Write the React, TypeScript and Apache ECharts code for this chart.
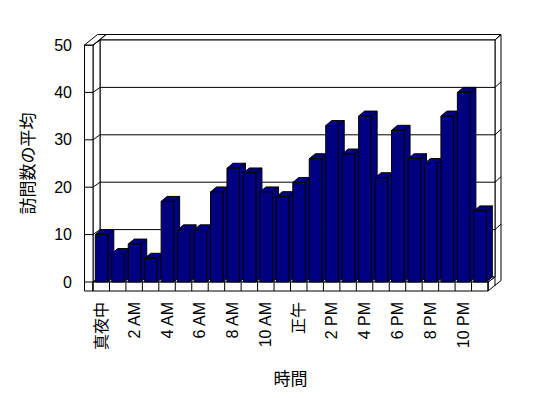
import React, { useEffect, useRef } from "react";
import * as echarts from "echarts";

const categories = [
  "真夜中", "1 AM", "2 AM", "3 AM", "4 AM", "5 AM", "6 AM", "7 AM", "8 AM", "9 AM", "10 AM", "11 AM",
  "正午", "1 PM", "2 PM", "3 PM", "4 PM", "5 PM", "6 PM", "7 PM", "8 PM", "9 PM", "10 PM", "11 PM",
];
const visits = [10, 6, 8, 5, 17, 11, 11, 19, 24, 23, 19, 18, 21, 26, 33, 27, 35, 22, 32, 26, 25, 35, 40, 15];
const yTicks = [0, 10, 20, 30, 40, 50];
const yTitle = "訪問数の平均";
const xTitle = "時間";

const FONT = "'Liberation Sans', 'Noto Sans CJK JP', sans-serif";

export default function App() {
  const ref = useRef<HTMLDivElement>(null);

  useEffect(() => {
    if (!ref.current) return;
    const chart = echarts.init(ref.current, null, { renderer: "svg" });

    const d1x = 7, d1y = -5;
    const d2x = 6, d2y = -5.5;
    const wt = 8.5, ft = 9;
    const bdx = 6, bdy = -5;
    const line = { stroke: "#000", lineWidth: 1, fill: "none" };
    const face = { stroke: "#000", lineWidth: 1, fill: "#fff" };
    const yMax = yTicks[yTicks.length - 1];

    const frameRender = (params: any, api: any) => {
      const w = api.size([1, 0])[0];
      const c0 = api.coord([0, 0]);
      const cN = api.coord([categories.length - 1, yMax]);
      const L = c0[0] - w / 2;
      const B = c0[1];
      const R = cN[0] + w / 2;
      const T = cN[1];
      const ch: any[] = [];
      ch.push({ type: "polygon", shape: { points: [[L + d1x, T + d1y], [R + d1x, T + d1y], [R + d1x + d2x, T + d1y + d2y], [L + d1x + d2x, T + d1y + d2y]] }, style: face });
      ch.push({ type: "polygon", shape: { points: [[R, B], [R, B + ft], [R + d1x + d2x, B + ft + d1y + d2y], [R + d1x + d2x, T + d1y + d2y], [R + d1x, T + d1y], [R + d1x, B + d1y]] }, style: face });
      ch.push({ type: "line", shape: { x1: R + d1x, y1: B + d1y, x2: R + d1x, y2: B + ft + d1y }, style: line });
      ch.push({ type: "rect", shape: { x: L + d1x, y: T + d1y, width: R - L, height: B - T }, style: face });
      ch.push({ type: "polygon", shape: { points: [[L, T], [L + d1x, T + d1y], [L + d1x, B + d1y], [L, B]] }, style: face });
      ch.push({ type: "polygon", shape: { points: [[L, B], [R, B], [R + d1x, B + d1y], [L + d1x, B + d1y]] }, style: face });
      yTicks.forEach((v) => {
        const y = api.coord([0, v])[1];
        if (v > 0 && v < yMax) {
          ch.push({ type: "line", shape: { x1: L + d1x, y1: y + d1y, x2: R + d1x, y2: y + d1y }, style: line });
        }
        if (v > 0) {
          ch.push({ type: "line", shape: { x1: L, y1: y, x2: L + d1x, y2: y + d1y }, style: line });
          ch.push({ type: "line", shape: { x1: R + d1x, y1: y + d1y, x2: R + d1x + d2x, y2: y + d1y + d2y }, style: line });
        }
      });
      ch.push({ type: "rect", shape: { x: L - wt, y: T, width: wt, height: B + ft - T }, style: face });
      yTicks.forEach((v) => {
        const y = api.coord([0, v])[1];
        ch.push({ type: "line", shape: { x1: L - wt, y1: y, x2: L, y2: y }, style: line });
      });
      ch.push({ type: "polygon", shape: { points: [[L - wt, T], [L, T], [L + d1x + d2x, T + d1y + d2y], [L - wt + d1x + d2x, T + d1y + d2y]] }, style: face });
      ch.push({ type: "rect", shape: { x: L, y: B, width: R - L, height: ft }, style: face });
      for (let k = 0; k <= categories.length; k++) {
        const x = L + k * w;
        ch.push({ type: "line", shape: { x1: x, y1: B, x2: x, y2: B + ft }, style: line });
      }
      return { type: "group", children: ch };
    };

    const barRender = (params: any, api: any) => {
      const i = api.value(0);
      const v = api.value(1);
      const w = api.size([1, 0])[0];
      const top = api.coord([i, v]);
      const base = api.coord([i, 0]);
      const x0 = top[0] - 0.36 * w;
      const x1 = top[0] + 0.4 * w;
      const yT = top[1];
      const yB = base[1];
      const st = { fill: "#000080", stroke: "#000", lineWidth: 1 };
      return {
        type: "group",
        children: [
          { type: "polygon", shape: { points: [[x1, yT], [x1 + bdx, yT + bdy], [x1 + bdx, yB + bdy], [x1, yB]] }, style: st },
          { type: "polygon", shape: { points: [[x0, yT], [x1, yT], [x1 + bdx, yT + bdy], [x0 + bdx, yT + bdy]] }, style: st },
          { type: "rect", shape: { x: x0, y: yT, width: x1 - x0, height: yB - yT }, style: st },
        ],
      };
    };

    chart.setOption({
      animation: false,
      backgroundColor: "#fff",
      grid: { left: 93, right: 60, top: 45, bottom: 116 },
      xAxis: {
        type: "category",
        data: categories,
        name: xTitle,
        nameLocation: "middle",
        nameGap: 89,
        nameTextStyle: { fontSize: 17, color: "#000", fontFamily: FONT },
        axisLine: { show: false },
        axisTick: { show: false },
        axisLabel: { interval: 1, rotate: 90, margin: 20, fontSize: 16, color: "#000", fontFamily: FONT },
        splitLine: { show: false },
      },
      yAxis: {
        type: "value",
        min: 0,
        max: yMax,
        interval: 10,
        name: yTitle,
        nameLocation: "middle",
        nameGap: 56,
        nameTextStyle: { fontSize: 17, color: "#000", fontFamily: FONT },
        axisLine: { show: false },
        axisTick: { show: false },
        axisLabel: { margin: 21, fontSize: 16, color: "#000", fontFamily: FONT },
        splitLine: { show: false },
      },
      series: [
        { type: "custom", z: 1, clip: false, silent: true, renderItem: frameRender, data: [[0, 0]] },
        { type: "custom", z: 2, clip: false, renderItem: barRender, data: visits.map((v, i) => [i, v]) },
      ],
    });
    return () => chart.dispose();
  }, []);

  return <div ref={ref} style={{ position: "fixed", left: 0, top: 0, width: 548, height: 398 }} />;
}
